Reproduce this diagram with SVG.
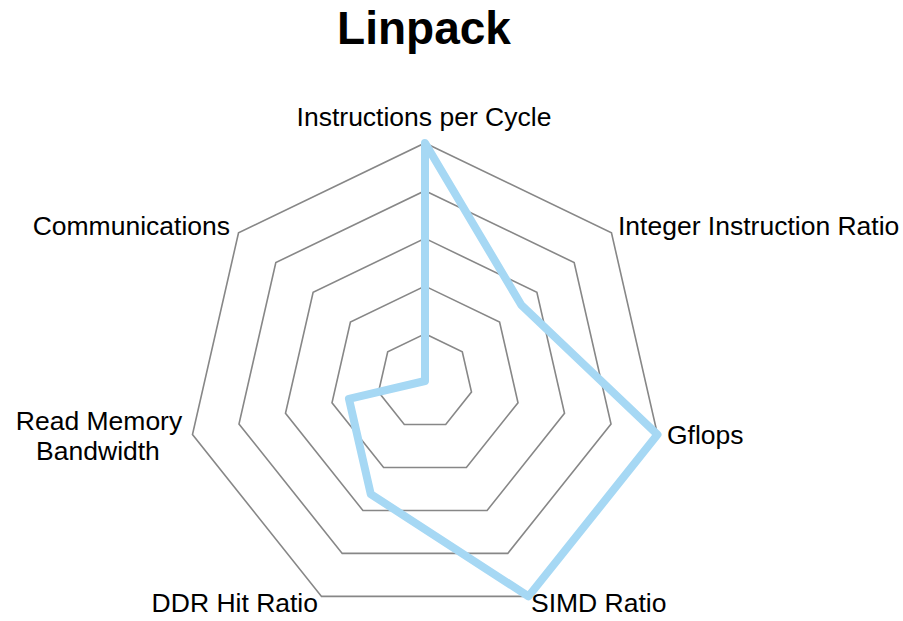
<svg xmlns="http://www.w3.org/2000/svg" width="903" height="621" viewBox="0 0 903 621">
<style>
.ring{fill:none;stroke:#878787;stroke-width:1.6;stroke-linejoin:miter}
.lbl{font-family:"Liberation Sans",Arial,sans-serif;font-size:26.5px;fill:#000}
.title{font-family:"Liberation Sans",Arial,sans-serif;font-size:46px;font-weight:bold;fill:#000}
.series{fill:none;stroke:#A6D8F4;stroke-width:8;stroke-linejoin:round;stroke-linecap:round}
</style>
<rect width="903" height="621" fill="#fff"/>
<text class="title" x="424" y="44" text-anchor="middle">Linpack</text>
<g id="grid">
<polygon class="ring" points="425,333.8 462.29,351.76 471.5,392.11 445.7,424.48 404.3,424.48 378.5,392.11 387.71,351.76"/>
<polygon class="ring" points="425,286.1 499.59,322.02 518.01,402.73 466.39,467.45 383.61,467.45 331.99,402.73 350.41,322.02"/>
<polygon class="ring" points="425,238.4 536.88,292.28 564.51,413.34 487.09,510.43 362.91,510.43 285.49,413.34 313.12,292.28"/>
<polygon class="ring" points="425,190.7 574.17,262.54 611.02,423.96 507.78,553.41 342.22,553.41 238.98,423.96 275.83,262.54"/>
<polygon class="ring" points="425,143 611.47,232.8 657.52,434.57 528.48,596.38 321.52,596.38 192.48,434.57 238.53,232.8"/>
</g>
<g id="connectors">
<polygon class="series" points="425,143 521.16,304.81 657.52,434.57 528.48,596.38 370.76,494.12 348.96,398.86 425,381"/>
</g>
<g id="axis-ipc"><text class="lbl" x="424" y="126" text-anchor="middle">Instructions per Cycle</text></g>
<g id="axis-integer"><text class="lbl" x="618" y="235">Integer Instruction Ratio</text></g>
<g id="axis-gflops"><text class="lbl" x="667" y="444">Gflops</text></g>
<g id="axis-simd"><text class="lbl" x="531" y="612">SIMD Ratio</text></g>
<g id="axis-ddr"><text class="lbl" x="318" y="612" text-anchor="end">DDR Hit Ratio</text></g>
<g id="axis-readmem"><text class="lbl" x="99" y="430" text-anchor="middle">Read Memory</text><text class="lbl" x="98" y="459.5" text-anchor="middle">Bandwidth</text></g>
<g id="axis-comm"><text class="lbl" x="230" y="235" text-anchor="end">Communications</text></g>
</svg>
